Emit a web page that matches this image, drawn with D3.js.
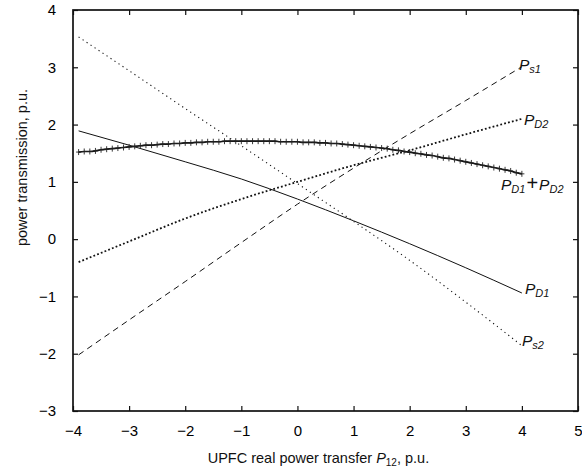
<!DOCTYPE html>
<html>
<head>
<meta charset="utf-8">
<script src="https://cdn.jsdelivr.net/npm/d3@7"></script>
<style>
  body { margin: 0; background: #fff; }
  svg { font-family: "Liberation Sans", Arial, sans-serif; }
</style>
</head>
<body>
<script>
// x grid for the four plain curves
var xs = [-3.9, -3, -2, -1, 0, 1, 2, 3, 4];

// values
var ps1 = [-2.02, -1.41, -0.74, -0.06, 0.61, 1.24, 1.84, 2.42, 3.01];
var ps2 = [3.53, 2.94, 2.28, 1.63, 0.97, 0.31, -0.37, -1.10, -1.86];
var pd1 = [1.89, 1.64, 1.35, 1.05, 0.70, 0.32, -0.08, -0.50, -0.94];
var pd2 = [-0.40, -0.04, 0.36, 0.70, 1.00, 1.29, 1.55, 1.83, 2.10];

// PD1 + PD2, drawn with + markers (x from -3.9 to 4.0, step 0.1)
var sumStart = -3.9, sumStep = 0.1;
var pdSum = [
  1.52, 1.53, 1.53, 1.54, 1.56, 1.57, 1.58, 1.59, 1.60, 1.61,
  1.62, 1.63, 1.64, 1.64, 1.65, 1.66, 1.66, 1.67, 1.67, 1.68,
  1.68, 1.69, 1.69, 1.70, 1.70, 1.70, 1.71, 1.71, 1.71, 1.71,
  1.71, 1.71, 1.71, 1.71, 1.71, 1.71, 1.70, 1.70, 1.70, 1.70,
  1.69, 1.69, 1.69, 1.68, 1.68, 1.67, 1.67, 1.66, 1.65, 1.64,
  1.63, 1.62, 1.61, 1.60, 1.59, 1.58, 1.56, 1.55, 1.53, 1.52,
  1.50, 1.49, 1.47, 1.46, 1.44, 1.42, 1.41, 1.39, 1.37, 1.35,
  1.33, 1.31, 1.29, 1.27, 1.25, 1.23, 1.21, 1.19, 1.16, 1.14
];

var xTicks = [-4, -3, -2, -1, 0, 1, 2, 3, 4, 5];
var yTicks = [-3, -2, -1, 0, 1, 2, 3, 4];

function init() {
    var W = 582, H = 469;
    var m = {left: 73, top: 10, right: 4, bottom: 58};
    var w = W - m.left - m.right;
    var h = H - m.top - m.bottom;

    var svg = d3.select("body").append("svg")
        .attr("width", W).attr("height", H);

    var g = svg.append("g")
        .attr("transform", "translate(" + m.left + "," + m.top + ")");

    var x = d3.scaleLinear().domain([-4, 5]).range([0, w]);
    var y = d3.scaleLinear().domain([-3, 4]).range([h, 0]);

    var minus = function(d) { return d < 0 ? "\u2212" + (-d) : d; };

    // axes, ticks pointing inwards on all four sides
    g.append("g").attr("transform", "translate(0," + h + ")")
        .call(d3.axisBottom(x).tickValues(xTicks).tickSize(-5).tickPadding(14).tickFormat(minus));
    g.append("g")
        .call(d3.axisLeft(y).tickValues(yTicks).tickSize(-5).tickPadding(17).tickFormat(minus));
    g.append("g")
        .call(d3.axisTop(x).tickValues(xTicks).tickSize(-5).tickFormat(""));
    g.append("g").attr("transform", "translate(" + w + ",0)")
        .call(d3.axisRight(y).tickValues(yTicks).tickSize(-5).tickFormat(""));

    g.selectAll(".domain").remove();
    g.selectAll(".tick line").attr("stroke", "#111").attr("stroke-width", 1.2);
    g.selectAll(".tick text").attr("font-size", 15).attr("fill", "#000")
        .attr("font-family", "Liberation Sans, Arial, sans-serif");

    g.append("rect")
        .attr("width", w).attr("height", h)
        .attr("fill", "none").attr("stroke", "#111").attr("stroke-width", 1.7);

    var line = d3.line()
        .x(function(d) { return x(d[0]); })
        .y(function(d) { return y(d[1]); })
        .curve(d3.curveMonotoneX);

    function pts(vals) {
        return vals.map(function(v, i) { return [xs[i], v]; });
    }
    var sumPts = pdSum.map(function(v, i) {
        return [+(sumStart + i * sumStep).toFixed(2), v];
    });

    var series = [
        {data: pts(ps1), dash: "6,4.5", width: 1},
        {data: pts(ps2), dash: "1.2,3.6", width: 1.1},
        {data: pts(pd1), dash: null, width: 1},
        {data: pts(pd2), dash: "1.8,2.2", width: 1.8},
        {data: sumPts, dash: null, width: 1.7}
    ];

    g.selectAll("path.curve").data(series).enter().append("path")
        .attr("class", "curve")
        .attr("d", function(d) { return line(d.data); })
        .attr("fill", "none")
        .attr("stroke", "#111")
        .attr("stroke-width", function(d) { return d.width; })
        .attr("stroke-dasharray", function(d) { return d.dash; });

    // + markers on the sum curve
    g.selectAll("path.plus").data(sumPts).enter().append("path")
        .attr("class", "plus")
        .attr("d", function(d) {
            var cx = x(d[0]), cy = y(d[1]);
            return "M" + (cx - 2.5) + "," + cy + "H" + (cx + 2.5) +
                   "M" + cx + "," + (cy - 3) + "V" + (cy + 3);
        })
        .attr("stroke", "#222").attr("stroke-width", 0.9);

    // curve labels: italic P with subscript
    function label(px, py, parts) {
        var t = svg.append("text").attr("x", px).attr("y", py)
            .attr("font-size", 15.5).attr("font-style", "italic").attr("fill", "#111");
        parts.forEach(function(p) {
            var s = t.append("tspan").text(p.t);
            if (p.sub) s.attr("font-size", 11).attr("dy", 3);
            if (p.up) s.attr("dy", -3);
            if (p.normal) s.attr("font-style", "normal").attr("font-size", 20);
            if (p.dx) s.attr("dx", p.dx);
        });
    }
    label(519, 70, [{t: "P"}, {t: "s1", sub: true}]);
    label(524, 125, [{t: "P"}, {t: "D2", sub: true}]);
    label(501, 190, [{t: "P"}, {t: "D1", sub: true}, {t: "+", normal: true, up: true, dx: 1}, {t: "P", dx: 1}, {t: "D2", sub: true}]);
    label(525, 294, [{t: "P"}, {t: "D1", sub: true}]);
    label(522, 346, [{t: "P"}, {t: "s2", sub: true}]);

    // axis titles
    var xt = svg.append("text").attr("x", m.left + x(0) + 21).attr("y", 463)
        .attr("text-anchor", "middle").attr("font-size", 14.5).attr("fill", "#111");
    xt.append("tspan").text("UPFC real power transfer ");
    xt.append("tspan").text("P").attr("font-style", "italic");
    xt.append("tspan").text("12").attr("font-size", 10).attr("dy", 3);
    xt.append("tspan").text(", p.u.").attr("dy", -3);

    svg.append("text")
        .attr("transform", "translate(27," + (m.top + y(1.25)) + ") rotate(-90)")
        .attr("text-anchor", "middle").attr("font-size", 14.5).attr("fill", "#111")
        .text("power transmission, p.u.");
}

window.onload = init;
</script>
</body>
</html>
